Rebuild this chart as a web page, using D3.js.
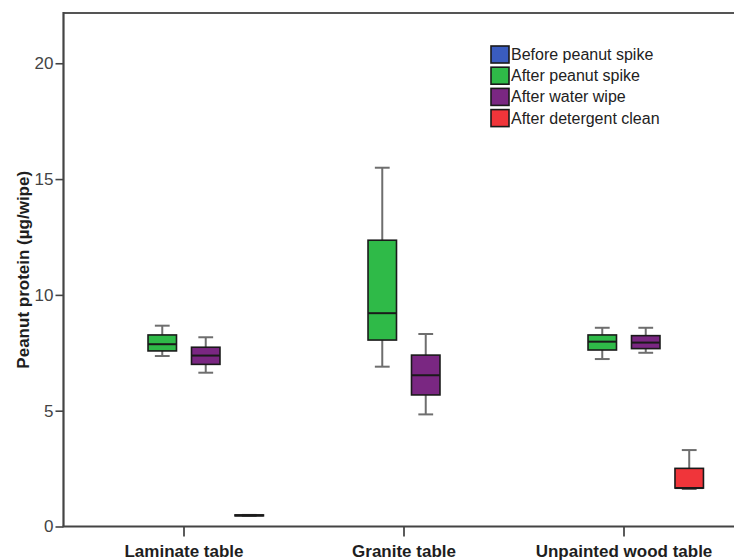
<!DOCTYPE html>
<html>
<head>
<meta charset="utf-8">
<script src="https://cdn.jsdelivr.net/npm/d3@7"></script>
<style>
  html, body { margin: 0; padding: 0; background: #fff; }
  svg { display: block; font-family: "Liberation Sans", Arial, sans-serif; }
</style>
</head>
<body>
<svg id="chart" width="734" height="560"></svg>
<script>
// Surface categories and wipe stages
const categories = ["Laminate table", "Granite table", "Unpainted wood table"];
const series = ["Before peanut spike", "After peanut spike", "After water wipe", "After detergent clean"];
const seriesColors = ["#3a5cbf", "#2fba48", "#7a2782", "#f0353a"];
const yTicks = [0, 5, 10, 15, 20];

// Box summaries per category: [min, q1, median, q3, max]; null = nothing shown
const beforeSpike = [null, null, null];
const afterSpike = [
  [7.36, 7.58, 7.87, 8.27, 8.67],
  [6.90, 8.05, 9.21, 12.36, 15.49],
  [7.23, 7.62, 7.98, 8.27, 8.58]
];
const afterWaterWipe = [
  [6.64, 7.00, 7.38, 7.74, 8.17],
  [4.84, 5.68, 6.53, 7.40, 8.31],
  [7.50, 7.68, 7.94, 8.24, 8.58]
];
const afterDetergent = [
  [0.46, 0.46, 0.48, 0.50, 0.50],
  null,
  [1.62, 1.66, 1.66, 2.51, 3.30]
];
const seriesData = [beforeSpike, afterSpike, afterWaterWipe, afterDetergent];

const svg = d3.select("#chart");
const plotLeft = 63.5, plotTop = 13, plotBottom = 526.5, plotRight = 734;

const y = d3.scaleLinear().domain([0, 22.17]).range([plotBottom, plotTop]);
const x = d3.scaleBand().domain(categories).range([74, 734]);
const sub = d3.scaleBand().domain(series).range([0, x.bandwidth()]).paddingOuter(0.53);
const boxW = sub.bandwidth() * 0.655;
const capW = boxW * 0.52;

// Frame: top edge
svg.append("line")
  .attr("x1", plotLeft).attr("x2", plotRight).attr("y1", plotTop).attr("y2", plotTop)
  .attr("stroke", "#555").attr("stroke-width", 2);

// Boxes
const boxes = [];
seriesData.forEach((arr, si) => {
  arr.forEach((d, ci) => {
    if (d) boxes.push({ s: series[si], c: categories[ci], color: seriesColors[si], v: d });
  });
});

const g = svg.append("g");
const bx = g.selectAll("g.box").data(boxes).join("g").attr("class", "box")
  .attr("transform", d => `translate(${x(d.c) + sub(d.s) + sub.bandwidth() / 2},0)`);

// whiskers
bx.append("line")
  .attr("x1", 0).attr("x2", 0)
  .attr("y1", d => y(d.v[4])).attr("y2", d => y(d.v[3]))
  .attr("stroke", "#6e6e6e").attr("stroke-width", 2);
bx.append("line")
  .attr("x1", 0).attr("x2", 0)
  .attr("y1", d => y(d.v[1])).attr("y2", d => y(d.v[0]))
  .attr("stroke", "#6e6e6e").attr("stroke-width", 2);
bx.append("line")
  .attr("x1", -capW / 2).attr("x2", capW / 2)
  .attr("y1", d => y(d.v[4])).attr("y2", d => y(d.v[4]))
  .attr("stroke", "#6e6e6e").attr("stroke-width", 2);
bx.append("line")
  .attr("x1", -capW / 2).attr("x2", capW / 2)
  .attr("y1", d => y(d.v[0])).attr("y2", d => y(d.v[0]))
  .attr("stroke", "#6e6e6e").attr("stroke-width", 2);
// box
bx.append("rect")
  .attr("x", -boxW / 2).attr("width", boxW)
  .attr("y", d => y(d.v[3]))
  .attr("height", d => Math.max(0.5, y(d.v[1]) - y(d.v[3])))
  .attr("fill", d => d.color)
  .attr("stroke", "#1a1a1a").attr("stroke-width", 1.6);
// median
bx.append("line")
  .attr("x1", -boxW / 2).attr("x2", boxW / 2)
  .attr("y1", d => y(d.v[2])).attr("y2", d => y(d.v[2]))
  .attr("stroke", "#1a1a1a").attr("stroke-width", 2);

// Y axis
const yAxis = svg.append("g")
  .attr("transform", `translate(${plotLeft},0)`)
  .call(d3.axisLeft(y).tickValues(yTicks).tickSize(8).tickSizeOuter(0).tickPadding(2));
yAxis.select(".domain").remove();
yAxis.selectAll(".tick line").attr("stroke", "#444").attr("stroke-width", 1.6);
yAxis.selectAll(".tick text").attr("fill", "#444").style("font-size", "17px");
svg.append("line")
  .attr("x1", plotLeft).attr("x2", plotLeft).attr("y1", plotTop - 1).attr("y2", plotBottom)
  .attr("stroke", "#444").attr("stroke-width", 2.2);

// X axis
const xAxis = svg.append("g")
  .attr("transform", `translate(0,${plotBottom})`)
  .call(d3.axisBottom(x).tickSize(10).tickSizeOuter(0).tickPadding(8));
xAxis.select(".domain").remove();
xAxis.selectAll(".tick line").attr("stroke", "#333").attr("stroke-width", 1.6);
xAxis.selectAll(".tick text").attr("fill", "#1e1e1e")
  .style("font-size", "17px").style("font-weight", "bold");
svg.append("line")
  .attr("x1", plotLeft - 1).attr("x2", plotRight).attr("y1", plotBottom).attr("y2", plotBottom)
  .attr("stroke", "#444").attr("stroke-width", 2);

// Y axis title
svg.append("text")
  .attr("transform", `translate(23,${(plotTop + plotBottom) / 2}) rotate(-90)`)
  .attr("text-anchor", "middle")
  .attr("dominant-baseline", "central")
  .attr("fill", "#1e1e1e")
  .style("font-size", "17px").style("font-weight", "bold")
  .text("Peanut protein (µg/wipe)");

// Legend
const legend = svg.append("g").attr("transform", "translate(491,54.5)");
const li = legend.selectAll("g").data(series).join("g")
  .attr("transform", (d, i) => `translate(0,${i * 21.2})`);
li.append("rect")
  .attr("x", 0).attr("y", -8.5).attr("width", 18).attr("height", 17)
  .attr("fill", (d, i) => seriesColors[i])
  .attr("stroke", "#1a1a1a").attr("stroke-width", 1.6);
li.append("text")
  .attr("x", 20).attr("y", 0)
  .attr("dominant-baseline", "central")
  .attr("fill", "#222")
  .style("font-size", "16px")
  .text(d => d);
</script>
</body>
</html>
